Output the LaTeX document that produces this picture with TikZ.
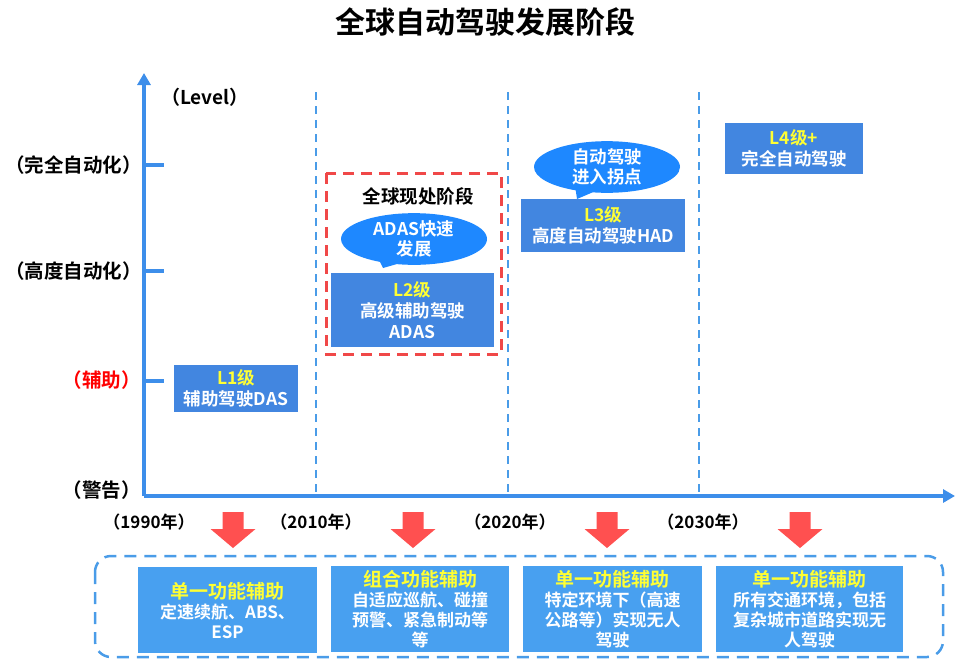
\documentclass[tikz,border=0pt]{standalone}
\usepackage{fontspec}
\setmainfont{Noto Sans CJK SC}[BoldFont={* Bold}]
\usepackage{tikz}
\usetikzlibrary{shapes.callouts,arrows.meta}
\definecolor{axisblue}{RGB}{61,142,234}
\definecolor{guideblue}{RGB}{74,156,232}
\definecolor{levelblue}{RGB}{66,134,224}
\definecolor{funcblue}{RGB}{72,160,240}
\definecolor{bubbleblue}{RGB}{30,136,255}
\definecolor{stagered}{RGB}{240,72,72}
\definecolor{arrowred}{RGB}{255,80,80}
\definecolor{hiyellow}{RGB}{255,255,51}

\begin{document}
\begin{tikzpicture}[x=1pt, y=-1pt]
    \useasboundingbox (0,0) rectangle (965,667);
    \tikzstyle{level} = [rectangle, fill=levelblue, text=white, align=center, inner sep=0pt, font=\bfseries\fontsize{17.5pt}{21pt}\selectfont]
    \tikzstyle{func} = [rectangle, fill=funcblue, text=white, align=center, inner sep=0pt, minimum height=86pt, font=\bfseries\fontsize{17pt}{20pt}\selectfont]
    \tikzstyle{bubble} = [ellipse callout, fill=bubbleblue, text=white, align=center, inner sep=0pt, minimum width=146pt, minimum height=46pt, callout pointer arc=14, font=\bfseries\fontsize{17.5pt}{20pt}\selectfont]
    \tikzstyle{axislabel} = [font=\bfseries\fontsize{19.5pt}{22pt}\selectfont, inner sep=0pt]
    \tikzstyle{year} = [font=\bfseries\fontsize{17pt}{20pt}\selectfont, inner sep=0pt]
    \tikzstyle{axis} = [draw=axisblue, line width=3.5pt, -{Triangle[length=12pt,width=13pt]}]
    \tikzstyle{guide} = [draw=guideblue, line width=2.2pt, dash pattern=on 8pt off 6pt]

    % Title
    \node [font=\bfseries\fontsize{30pt}{34pt}\selectfont] (title) at (485,22) {全球自动驾驶发展阶段};

    % Axes
    \coordinate (origin) at (144,496);
    \coordinate (y_end) at (144,73);
    \coordinate (x_end) at (955,496);
    \draw [axis] (origin) -- (y_end);
    \draw [axis] (origin) -- (x_end);
    \foreach \y in {165,271,381}
        \draw [axisblue, line width=4pt] (144,\y) -- (164,\y);

    % Decade guides
    \foreach \x in {316,508,699}
        \draw [guide] (\x,92) -- (\x,496);

    % Level labels
    \node [axislabel, font=\bfseries\fontsize{19pt}{22pt}\selectfont] (level) at (205,97) {（Level）};
    \node [axislabel, anchor=east] (lab_full) at (142,165) {（完全自动化）};
    \node [axislabel, anchor=east] (lab_high) at (142,271) {（高度自动化）};
    \node [axislabel, anchor=east, text=red] (lab_assist) at (141,380) {（辅助）};
    \node [axislabel, anchor=east] (lab_warn) at (141,490) {（警告）};

    % Current stage
    \draw [stagered, line width=3pt, dash pattern=on 11pt off 7pt] (326,173) rectangle (501,354);
    \node [font=\bfseries\fontsize{18.5pt}{22pt}\selectfont] (stage) at (418,196) {全球现处阶段};

    % Levels
    \node [level, minimum width=124pt, minimum height=47pt] (l1) at (236,388) {\textcolor{hiyellow}{L1级}\\辅助驾驶DAS};
    \node [level, minimum width=163pt, minimum height=74pt] (l2) at (412.5,310) {\textcolor{hiyellow}{L2级}\\高级辅助驾驶\\ADAS};
    \node [level, minimum width=164pt, minimum height=53pt] (l3) at (603,225.5) {\textcolor{hiyellow}{L3级}\\高度自动驾驶HAD};
    \node [level, minimum width=138pt, minimum height=51pt] (l4) at (794,148.5) {\textcolor{hiyellow}{L4级+}\\完全自动驾驶};

    % Callouts
    \node [bubble, callout absolute pointer={(383,268)}] (adas_fast) at (414,239) {ADAS快速\\发展};
    \node [bubble, callout absolute pointer={(577,199)}] (turning) at (607,167) {自动驾驶\\进入拐点};

    % Years
    \node [year] (y1990) at (149,522) {（1990年）};
    \node [year] (y2010) at (316,522) {（2010年）};
    \node [year] (y2020) at (510,522) {（2020年）};
    \node [year] (y2030) at (703,522) {（2030年）};

    % Red arrows
    \foreach \x in {233,413,607,800}
        \fill [arrowred] (\x-10.5,512) -- (\x+10.5,512) -- (\x+10.5,529) -- (\x+22.5,529)
            -- (\x,548) -- (\x-22.5,529) -- (\x-10.5,529) -- cycle;

    % Functions
    \draw [guideblue, line width=2.5pt, dash pattern=on 12pt off 8pt, rounded corners=16pt] (95,556) rectangle (943,657);
    \node [func, minimum width=179pt] (f1) at (227.5,610) {\textcolor{hiyellow}{\fontsize{19pt}{20pt}\selectfont 单一功能辅助}\\定速续航、ABS、\\ESP};
    \node [func, minimum width=178pt] (f2) at (420,609) {\textcolor{hiyellow}{\fontsize{19pt}{20pt}\selectfont 组合功能辅助}\\自适应巡航、碰撞\\预警、紧急制动等\\等};
    \node [func, minimum width=179pt] (f3) at (612.5,609) {\textcolor{hiyellow}{\fontsize{19pt}{20pt}\selectfont 单一功能辅助}\\特定环境下（高速\\公路等）实现无人\\驾驶};
    \node [func, minimum width=187pt] (f4) at (809.5,609) {\textcolor{hiyellow}{\fontsize{19pt}{20pt}\selectfont 单一功能辅助}\\所有交通环境，包括\\复杂城市道路实现无\\人驾驶};
\end{tikzpicture}
\end{document}
